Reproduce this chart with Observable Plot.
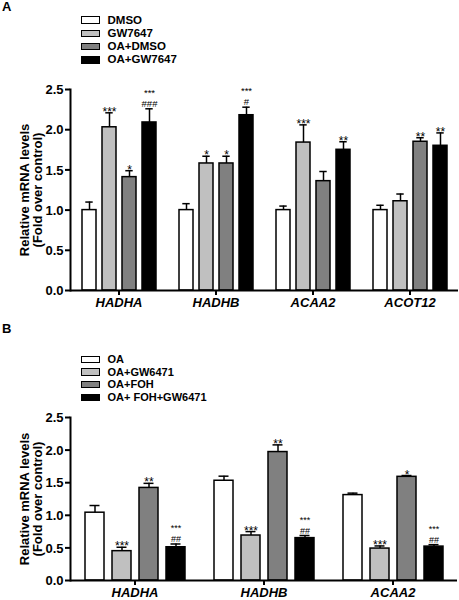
<!DOCTYPE html>
<html><head><meta charset="utf-8">
<script src="https://cdn.jsdelivr.net/npm/d3@7"></script>
<script src="https://cdn.jsdelivr.net/npm/@observablehq/plot@0.6"></script>
<style>
body{margin:0;background:#fff;font-family:"Liberation Sans",Arial,sans-serif;color:#000;}
#root{position:relative;width:459px;height:600px;overflow:hidden;}
.letter{position:absolute;left:2px;font-weight:bold;font-size:13px;line-height:13px;}
.legend{position:absolute;left:81px;font-weight:bold;}
.legend .row{display:flex;align-items:center;}
.legend .sw{width:17px;height:5.5px;border:1.5px solid #000;margin-right:7.5px;box-sizing:content-box;}
.chart{position:absolute;left:0;}
</style></head><body>
<div id="root"></div>
<script>
// ---------- Panel A data ----------
const genesA = ["HADHA", "HADHB", "ACAA2", "ACOT12"];
const groupsA = ["DMSO", "GW7647", "OA+DMSO", "OA+GW7647"];
const valuesA = [
  [1.00, 2.03, 1.41, 2.09],
  [1.00, 1.58, 1.58, 2.18],
  [1.00, 1.84, 1.36, 1.75],
  [1.00, 1.11, 1.85, 1.80]
];
const errorsA = [
  [0.10, 0.18, 0.08, 0.17],
  [0.08, 0.09, 0.09, 0.10],
  [0.05, 0.22, 0.12, 0.10],
  [0.06, 0.09, 0.05, 0.16]
];
const starsA = [
  ["", "***", "*", "***"],
  ["", "*", "*", "***"],
  ["", "***", "", "**"],
  ["", "", "**", "**"]
];
const hashesA = [
  ["", "", "", "###"],
  ["", "", "", "#"],
  ["", "", "", ""],
  ["", "", "", ""]
];

// ---------- Panel B data ----------
const genesB = ["HADHA", "HADHB", "ACAA2"];
const groupsB = ["OA", "OA+GW6471", "OA+FOH", "OA+ FOH+GW6471"];
const valuesB = [
  [1.04, 0.45, 1.42, 0.51],
  [1.53, 0.69, 1.97, 0.65],
  [1.31, 0.49, 1.59, 0.52]
];
const errorsB = [
  [0.11, 0.06, 0.07, 0.05],
  [0.07, 0.06, 0.11, 0.04],
  [0.03, 0.04, 0.02, 0.03]
];
const starsB = [
  ["", "***", "**", "***"],
  ["", "***", "**", "***"],
  ["", "***", "*", "***"]
];
const hashesB = [
  ["", "", "", "##"],
  ["", "", "", "##"],
  ["", "", "", "##"]
];

const fills = ["#ffffff", "#c0c0c0", "#808080", "#000000"];
const yTicks = [0, 0.5, 1.0, 1.5, 2.0, 2.5];
const yLabel = "Relative mRNA levels\n(Fold over control)";
const FONT = '"Liberation Sans", Arial, sans-serif';

const root = document.getElementById("root");

function addLetter(txt, top) {
  const d = document.createElement("div");
  d.className = "letter";
  d.style.top = top + "px";
  d.textContent = txt;
  root.appendChild(d);
}

function addLegend(groups, top, rowH, fontSize) {
  const lg = document.createElement("div");
  lg.className = "legend";
  lg.style.top = top + "px";
  lg.style.fontSize = fontSize + "px";
  lg.style.lineHeight = rowH + "px";
  groups.forEach((g, i) => {
    const r = document.createElement("div");
    r.className = "row";
    r.style.height = rowH + "px";
    const sw = document.createElement("span");
    sw.className = "sw";
    sw.style.background = fills[i];
    const t = document.createElement("span");
    t.textContent = g;
    r.appendChild(sw); r.appendChild(t);
    lg.appendChild(r);
  });
  root.appendChild(lg);
}

function panel(cfg) {
  const rows = [];
  cfg.genes.forEach((g, i) => cfg.groups.forEach((t, j) => rows.push({
    gene: g, group: t, value: cfg.values[i][j], err: cfg.errors[i][j],
    top: cfg.values[i][j] + cfg.errors[i][j], star: cfg.stars[i][j], hash: cfg.hashes[i][j]
  })));
  const common = {fx: "gene", x: "group"};
  const chart = Plot.plot({
    width: 459, height: cfg.height,
    marginTop: cfg.marginTop, marginBottom: cfg.marginBottom, marginLeft: 69, marginRight: 1,
    style: {fontFamily: FONT, background: "transparent", overflow: "visible", color: "#000"},
    fx: {domain: cfg.genes, padding: 0},
    x: {domain: cfg.groups, paddingInner: cfg.pi, paddingOuter: cfg.po, axis: null},
    y: {domain: [0, 2.5], axis: null},
    color: {domain: cfg.groups, range: fills},
    marks: [
      Plot.axisY({ticks: yTicks, tickFormat: d3.format(".1f"), tickSize: 5, tickPadding: 2, strokeWidth: 2,
        fontSize: 13, fontWeight: "bold", label: yLabel, labelAnchor: "center", labelOffset: 51,
        labelArrow: "none", lineHeight: 1.12}),
      Plot.axisFx({anchor: "bottom", tickSize: 5, tickPadding: 2, strokeWidth: 2,
        fontSize: 13, fontWeight: "bold", fontStyle: "italic", label: null}),
      Plot.barY(rows, {...common, y: "value", fill: "group", stroke: "black", strokeWidth: 1.5}),
      Plot.ruleX(rows, {...common, y1: "value", y2: "top", stroke: "black", strokeWidth: 1.5}),
      Plot.tickY(rows, {...common, y: "top", stroke: "black", strokeWidth: 1.5, insetLeft: cfg.capInset, insetRight: cfg.capInset}),
      Plot.ruleY([0], {stroke: "black", strokeWidth: 2}),
      Plot.frame({anchor: "left", facetAnchor: "left", stroke: "black", strokeWidth: 2}),
      // significance: stars only
      Plot.text(rows.filter(d => d.star && !d.hash), {...common, y: "top", text: "star", lineAnchor: "bottom", dy: 3, fontSize: 12, fill: "black"}),
      // significance: stars over hashes (one two-line label)
      Plot.text(rows.filter(d => d.star && d.hash), {...common, y: "top", text: d => d.star + "\n" + d.hash,
        lineAnchor: "bottom", dy: cfg.hashDy, fontSize: cfg.sigSize, lineHeight: 1.17, fill: "black"})
    ]
  });
  chart.classList.add("chart");
  chart.style.top = cfg.top + "px";
  chart.style.position = "absolute";
  root.appendChild(chart);
}

addLetter("A", 0);
addLegend(groupsA, 13.5, 13.3, 11.5);
panel({genes: genesA, groups: groupsA, values: valuesA, errors: errorsA, stars: starsA, hashes: hashesA,
  top: 70, height: 246, marginTop: 19, marginBottom: 26, pi: 0.31, po: 0.545, capInset: 3.3,
  hashDy: -2, sigSize: 9.5});

addLetter("B", 322);
addLegend(groupsB, 353, 12.7, 11);
panel({genes: genesB, groups: groupsB, values: valuesB, errors: errorsB, stars: starsB, hashes: hashesB,
  top: 400, height: 200, marginTop: 17, marginBottom: 20, pi: 0.307, po: 0.51, capInset: 4.5,
  hashDy: -2, sigSize: 9});
</script></body></html>
